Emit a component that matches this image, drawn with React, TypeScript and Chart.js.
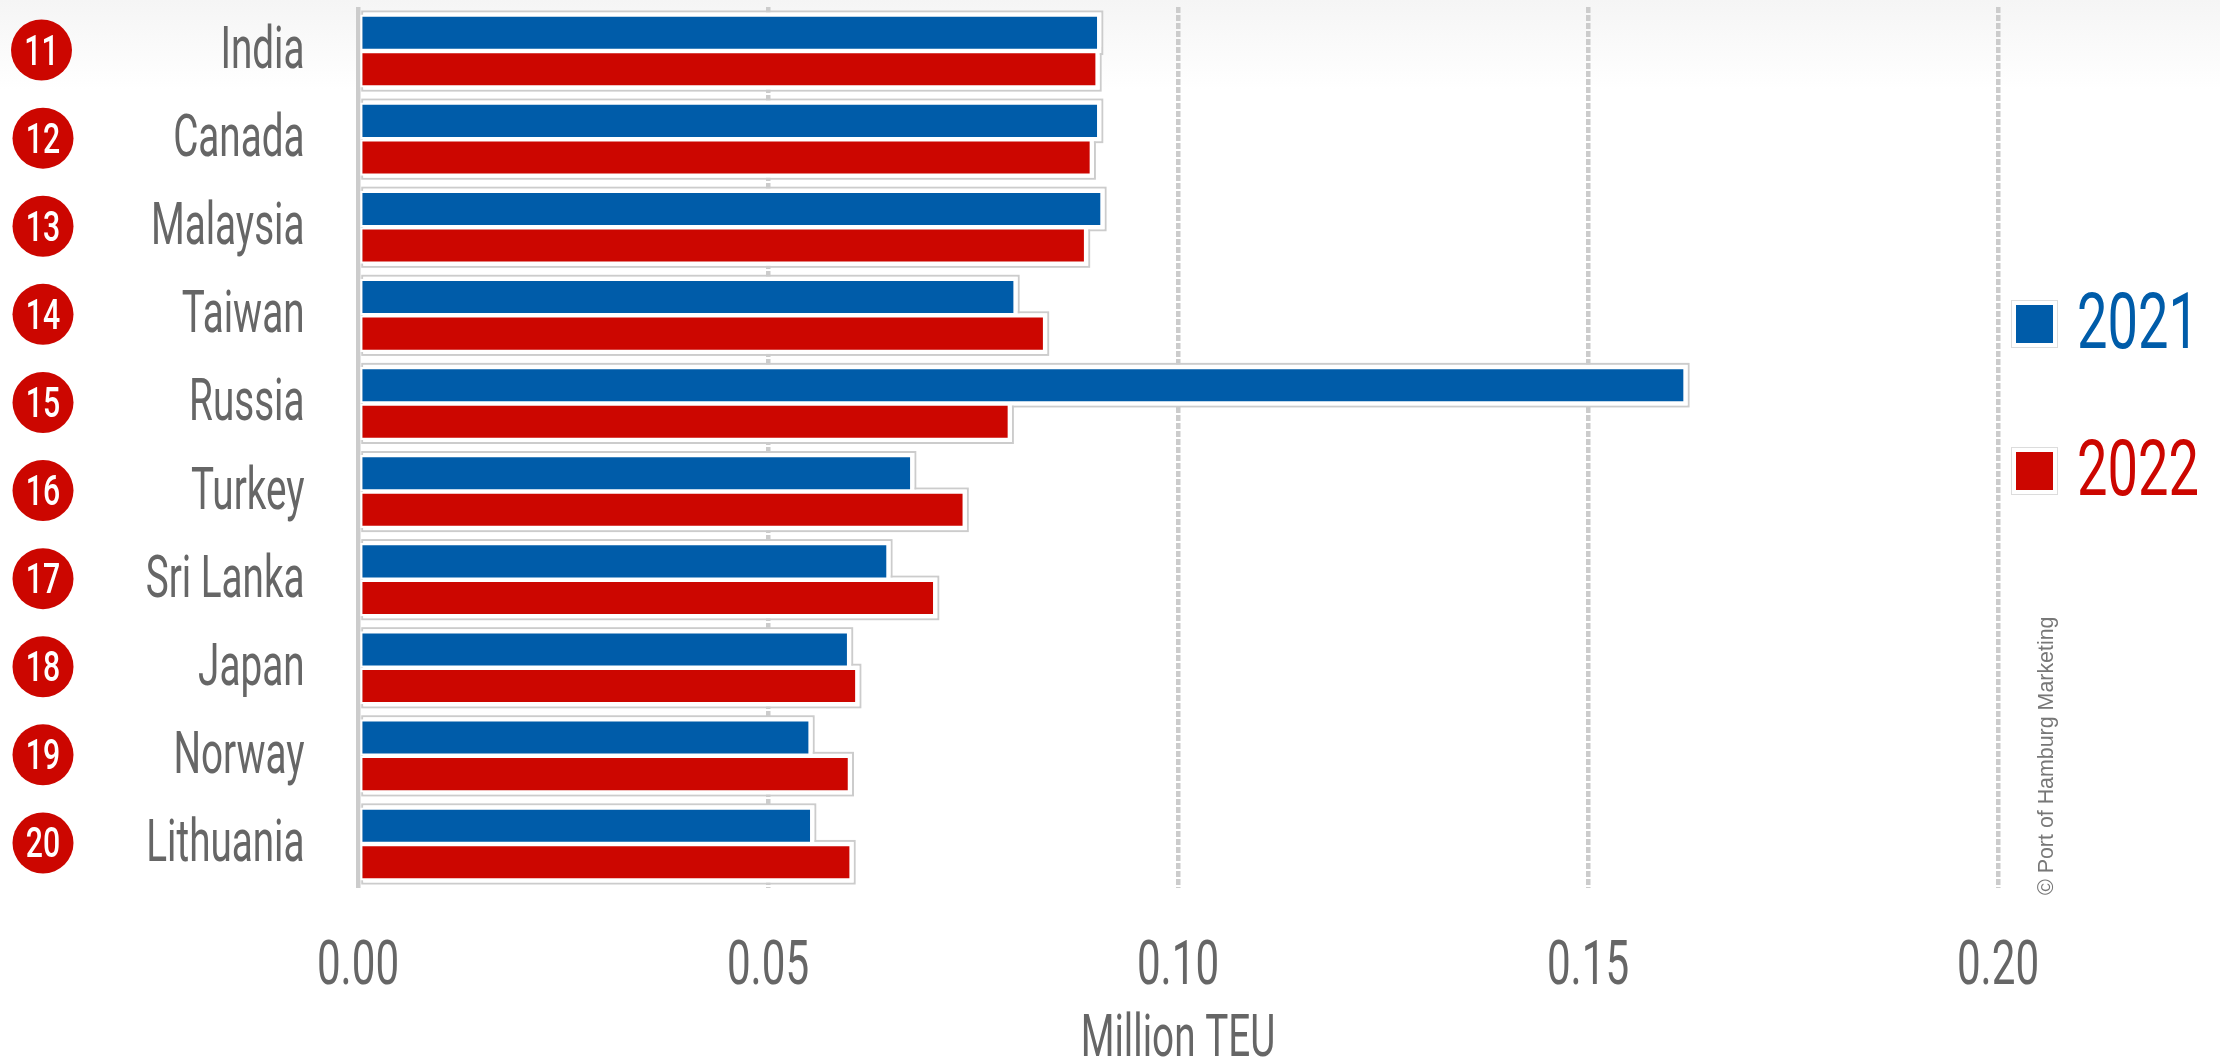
import React, { useEffect, useRef } from "react";
import { Chart, registerables } from "chart.js";

Chart.register(...registerables);

const categories = ["India", "Canada", "Malaysia", "Taiwan", "Russia", "Turkey", "Sri Lanka", "Japan", "Norway", "Lithuania"];
const ranks = ["11", "12", "13", "14", "15", "16", "17", "18", "19", "20"];
const values2021 = [0.0904, 0.0904, 0.0908, 0.0802, 0.1619, 0.0676, 0.0647, 0.0599, 0.0552, 0.0554];
const values2022 = [0.0902, 0.0895, 0.0888, 0.0838, 0.0795, 0.074, 0.0704, 0.0609, 0.06, 0.0602];
const xTicks = [0, 0.05, 0.1, 0.15, 0.2];
const BLUE = "#005CA9";
const RED = "#CC0600";
const GREY = "#666666";
const FRAME = "#cccccc";

function squeezed(ctx: CanvasRenderingContext2D, text: string, x: number, y: number, font: string, color: string, sx: number, align: CanvasTextAlign) {
  ctx.save();
  ctx.translate(x, y);
  ctx.scale(sx, 1);
  ctx.font = font;
  ctx.fillStyle = color;
  ctx.textAlign = align;
  ctx.textBaseline = "alphabetic";
  ctx.fillText(text, 0, 0);
  ctx.restore();
}

const framePlugin = {
  id: "frames",
  beforeDatasetsDraw(chart: any) {
    const ctx: CanvasRenderingContext2D = chart.ctx;
    const rects: number[][] = [];
    chart.data.datasets.forEach((_: any, i: number) => {
      chart.getDatasetMeta(i).data.forEach((el: any) => {
        const h = el.height;
        rects.push([el.base, el.y - h / 2 - 3, el.x - el.base + 3, h + 6]);
      });
    });
    ctx.save();
    ctx.strokeStyle = FRAME;
    ctx.lineWidth = 2;
    rects.forEach((r) => ctx.strokeRect(r[0] + 2, r[1], r[2] - 2, r[3]));
    ctx.fillStyle = "#fff";
    rects.forEach((r) => ctx.fillRect(r[0] + 3, r[1] + 1, r[2] - 4, r[3] - 2));
    ctx.restore();
  },
};

const textPlugin = {
  id: "texts",
  afterDraw(chart: any) {
    const ctx: CanvasRenderingContext2D = chart.ctx;
    const y = chart.scales.y;
    const x = chart.scales.x;
    categories.forEach((c, i) => {
      const py = y.getPixelForValue(i);
      squeezed(ctx, c, 304.5, py + 17, "400 59px Roboto", GREY, 0.655, "right");
      ctx.save();
      ctx.beginPath();
      ctx.fillStyle = RED;
      ctx.arc(i === 0 ? 41.5 : 43, py - 1, 30.5, 0, Math.PI * 2);
      ctx.fill();
      ctx.restore();
      squeezed(ctx, ranks[i], i === 0 ? 41.5 : 43, py + 13.5, "500 42px Roboto", "#fff", 0.72, "center");
    });
    xTicks.forEach((v) => {
      squeezed(ctx, v.toFixed(2), x.getPixelForValue(v), 984, "400 62px Roboto", GREY, 0.68, "center");
    });
    squeezed(ctx, "Million TEU", (x.left + x.right) / 2, 1056, "400 60px Roboto", GREY, 0.645, "center");

    chart.data.datasets.forEach((d: any, i: number) => {
      const top = 300 + i * 147;
      ctx.save();
      ctx.fillStyle = "#fff";
      ctx.strokeStyle = "#dcdcdc";
      ctx.lineWidth = 1;
      ctx.fillRect(2011.5, top + 0.5, 46, 47);
      ctx.strokeRect(2011.5, top + 0.5, 46, 47);
      ctx.fillStyle = d.backgroundColor;
      ctx.fillRect(2016, top + 5, 37, 38);
      ctx.restore();
      squeezed(ctx, d.label, 2077, top + 48, "400 77px Roboto", d.backgroundColor, 0.705, "left");
    });

    ctx.save();
    ctx.translate(2053, 895);
    ctx.rotate(-Math.PI / 2);
    ctx.font = "21.4px 'Liberation Sans'";
    ctx.fillStyle = "#777";
    ctx.textAlign = "left";
    ctx.fillText("© Port of Hamburg Marketing", 0, 0);
    ctx.restore();
  },
};

export default function App() {
  const ref = useRef<HTMLCanvasElement>(null);
  useEffect(() => {
    const chart = new Chart(ref.current!, {
      type: "bar",
      data: {
        labels: categories,
        datasets: [
          { label: "2021", data: values2021, backgroundColor: BLUE, borderColor: "#fff", borderWidth: 2.25, borderSkipped: false },
          { label: "2022", data: values2022, backgroundColor: RED, borderColor: "#fff", borderWidth: 2.25, borderSkipped: false },
        ],
      },
      options: {
        indexAxis: "y",
        animation: false,
        responsive: false,
        devicePixelRatio: 1,
        layout: { padding: { left: 358, right: 222, top: 7, bottom: 171 } },
        plugins: { legend: { display: false }, tooltip: { enabled: false }, title: { display: false } },
        datasets: { bar: { barPercentage: 1, categoryPercentage: 0.83 } },
        scales: {
          x: {
            min: 0,
            max: 0.2,
            ticks: { display: false, stepSize: 0.05 },
            grid: { color: "#cccccc", lineWidth: 4.5, drawTicks: false },
            border: { display: false, dash: (c: any) => (c.tick && c.tick.value === 0 ? [] : [6, 2]) },
          },
          y: {
            display: false,
          },
        },
      },
      plugins: [framePlugin, textPlugin],
    } as any);
    return () => chart.destroy();
  }, []);
  return (
    <div style={{ position: "absolute", left: 0, top: 0, width: 2220, height: 1059, background: "linear-gradient(#f5f5f5 0px, #ffffff 90px)" }}>
      <canvas ref={ref} width={2220} height={1059} style={{ display: "block" }} />
    </div>
  );
}
